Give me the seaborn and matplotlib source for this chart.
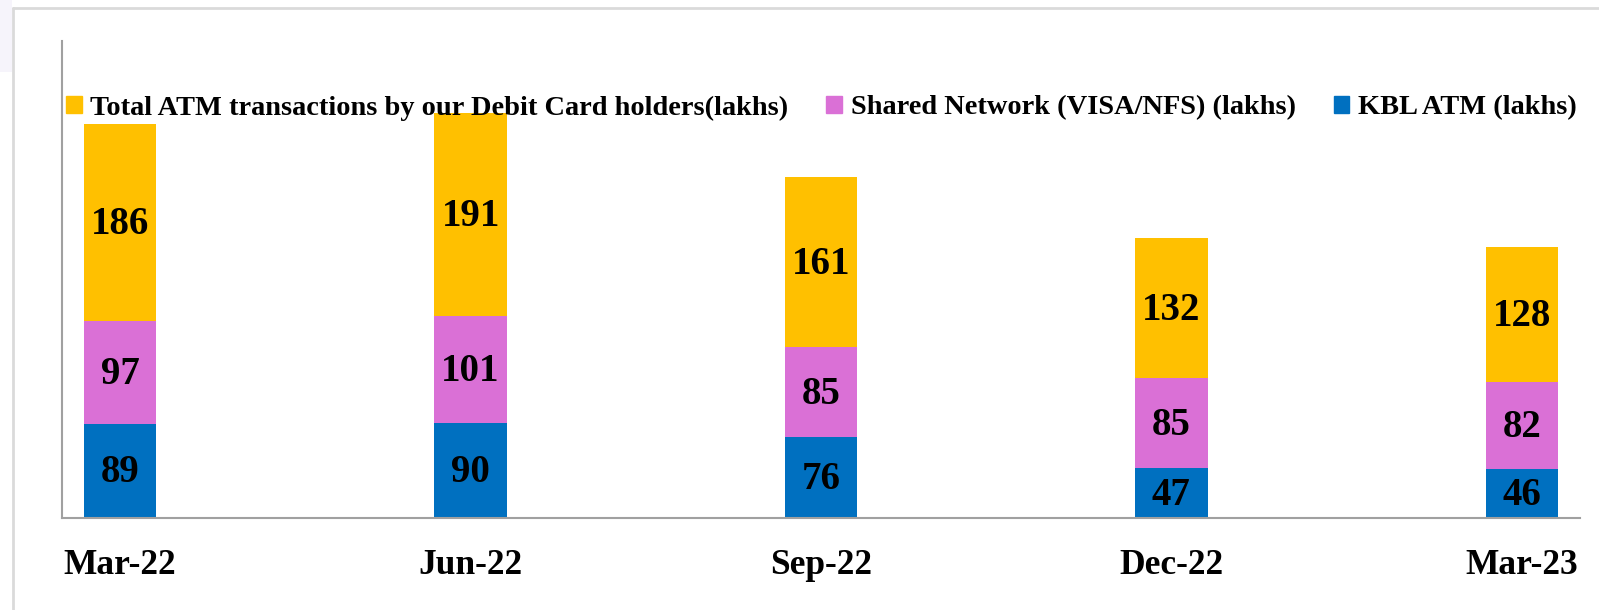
import matplotlib
matplotlib.use("Agg")
import matplotlib.pyplot as plt
import matplotlib.patches as mpatches
import matplotlib.lines as mlines
import numpy as np
import pandas as pd
import seaborn as sns

# Quarterly ATM transactions (lakhs)
quarters = ["Mar-22", "Jun-22", "Sep-22", "Dec-22", "Mar-23"]
kbl_atm = [89, 90, 76, 47, 46]
shared_network = [97, 101, 85, 85, 82]
total_debit = [186, 191, 161, 132, 128]

series_names = [
    "Total ATM transactions by our Debit Card holders(lakhs)",
    "Shared Network (VISA/NFS) (lakhs)",
    "KBL ATM (lakhs)",
]
colors = ["#FFC000", "#DA70D6", "#0070C0"]

sns.set_theme(style="white")
plt.rcParams["font.family"] = ["Liberation Serif", "DejaVu Serif"]
plt.rcParams["font.weight"] = "bold"
plt.rcParams["text.color"] = "black"

df = pd.DataFrame({
    "quarter": quarters,
    "kbl": kbl_atm,
    "shared": shared_network,
    "total": total_debit,
})
# Cumulative tops for stacking (bottom to top: KBL, Shared, Total)
df["top_kbl"] = df["kbl"]
df["top_shared"] = df["kbl"] + df["shared"]
df["top_total"] = df["top_shared"] + df["total"]

fig = plt.figure(figsize=(15.99, 6.10), dpi=100)
fig.patch.set_facecolor("white")

# page frame
fig.add_artist(mpatches.Rectangle((0, 1 - 72 / 610), 12 / 1599, 72 / 610,
                                  transform=fig.transFigure, facecolor="#F6F4FB",
                                  edgecolor="none", zorder=0))
fig.add_artist(mlines.Line2D([13 / 1599, 1.0], [1 - 8 / 610, 1 - 8 / 610],
                             transform=fig.transFigure, color="#DADADA", lw=2))
fig.add_artist(mlines.Line2D([13 / 1599, 13 / 1599], [0, 1 - 8 / 610],
                             transform=fig.transFigure, color="#DADADA", lw=2))

ax = fig.add_axes([62 / 1599, (610 - 518) / 610, (1580 - 62) / 1599, (518 - 41) / 610])
ax.set_facecolor("none")

bar_w = 0.207
for col, c in zip(["top_total", "top_shared", "top_kbl"], colors):
    sns.barplot(data=df, x="quarter", y=col, color=c, width=bar_w,
                saturation=1, linewidth=0, ax=ax, order=quarters)

# segment value labels
for i in range(len(quarters)):
    segs = [(0, kbl_atm[i]),
            (kbl_atm[i], shared_network[i]),
            (kbl_atm[i] + shared_network[i], total_debit[i])]
    for b, h in segs:
        ax.text(i, b + h / 2 - 2, f"{h}", ha="center", va="center",
                fontsize=28, fontweight="bold", color="black")

ax.set_xlim(-0.166, len(quarters) - 1 + 0.166)
ax.set_ylim(0, 450)
ax.set_xlabel("")
ax.set_ylabel("")
ax.set_yticks([])

ax.set_xticks(range(len(quarters)))
ax.set_xticklabels(quarters, fontsize=25.5, fontweight="bold")
ax.tick_params(axis="x", which="major", length=0, pad=22, labelcolor="black")
ax.set_xticks(np.arange(len(quarters)) - 0.166, minor=True)
ax.tick_params(axis="x", which="minor", length=9, width=1.5, color="#A0A0A0")

for s in ["top", "right"]:
    ax.spines[s].set_visible(False)
for s in ["left", "bottom"]:
    ax.spines[s].set_color("#A0A0A0")
    ax.spines[s].set_linewidth(1.5)

handles = [mpatches.Patch(color=c, label=n) for c, n in zip(colors, series_names)]
leg = fig.legend(handles=handles, ncol=3, loc="center left",
                 bbox_to_anchor=(66 / 1599, 1 - 108 / 610), frameon=False,
                 prop={"size": 20.4, "weight": "bold"}, labelcolor="black",
                 handlelength=0.55, handleheight=0.55, handletextpad=0.3,
                 columnspacing=1.35, borderpad=0, borderaxespad=0)

fig.savefig("out.png", dpi=100, facecolor="white")
